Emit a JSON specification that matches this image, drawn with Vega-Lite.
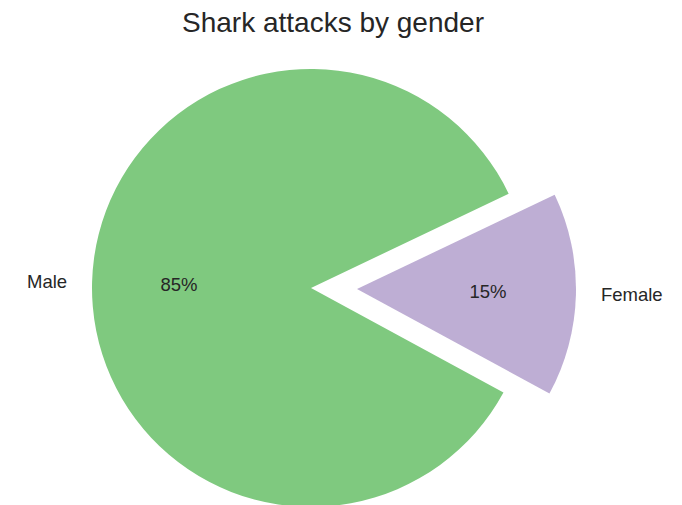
{
  "$schema": "https://vega.github.io/schema/vega-lite/v6.json",
  "width": 622,
  "height": 436,
  "autosize": "none",
  "padding": {"left": 0, "top": 70, "right": 60, "bottom": 0},
  "background": "white",
  "view": {"stroke": null},
  "title": {
    "text": "Shark attacks by gender",
    "font": "Liberation Sans",
    "fontSize": 28,
    "fontWeight": "normal",
    "color": "#262626",
    "anchor": "middle",
    "frame": "group",
    "dx": 22,
    "baseline": "alphabetic",
    "offset": 9
  },
  "data": {"values": [
    {"gender": "Male", "share": 0.85},
    {"gender": "Female", "share": 0.15}
  ]},
  "transform": [
    {"stack": "share", "groupby": [], "sort": [{"field": "gender", "order": "descending"}], "as": ["s0", "s1"]},
    {"calculate": "(datum.s0 + datum.s1) / 2", "as": "mid"}
  ],
  "layer": [
    {
      "transform": [{"filter": "datum.gender === 'Male'"}],
      "mark": {"type": "arc", "outerRadius": 219},
      "encoding": {
        "theta": {"field": "s0", "type": "quantitative", "scale": {"domain": [0, 1], "range": [2.068215, 8.3514]}},
        "theta2": {"field": "s1"},
        "color": {"field": "gender", "type": "nominal", "scale": {"domain": ["Male", "Female"], "range": ["#7fc97f", "#beaed4"]}, "legend": null}
      }
    },
    {
      "transform": [{"filter": "datum.gender === 'Female'"}],
      "mark": {"type": "arc", "outerRadius": 219, "xOffset": 46, "yOffset": 1},
      "encoding": {
        "theta": {"field": "s0", "type": "quantitative"},
        "theta2": {"field": "s1"},
        "color": {"field": "gender", "type": "nominal", "legend": null}
      }
    },
    {
      "transform": [{"filter": "datum.gender === 'Male'"}],
      "mark": {"type": "text", "radius": 244, "align": "right", "baseline": "middle", "font": "Liberation Sans", "fontSize": 18.5, "color": "#262626"},
      "encoding": {
        "theta": {"field": "mid", "type": "quantitative", "stack": null},
        "text": {"field": "gender"}
      }
    },
    {
      "transform": [{"filter": "datum.gender === 'Male'"}],
      "mark": {"type": "text", "radius": 132, "align": "center", "baseline": "middle", "font": "Liberation Sans", "fontSize": 18.5, "color": "#262626"},
      "encoding": {
        "theta": {"field": "mid", "type": "quantitative", "stack": null},
        "text": {"field": "share", "format": ".0%"}
      }
    },
    {
      "transform": [{"filter": "datum.gender === 'Female'"}],
      "mark": {"type": "text", "radius": 244, "align": "left", "baseline": "middle", "font": "Liberation Sans", "fontSize": 18.5, "color": "#262626", "xOffset": 46, "yOffset": 1},
      "encoding": {
        "theta": {"field": "mid", "type": "quantitative", "stack": null},
        "text": {"field": "gender"}
      }
    },
    {
      "transform": [{"filter": "datum.gender === 'Female'"}],
      "mark": {"type": "text", "radius": 131, "align": "center", "baseline": "middle", "font": "Liberation Sans", "fontSize": 18.5, "color": "#262626", "xOffset": 46, "yOffset": 1},
      "encoding": {
        "theta": {"field": "mid", "type": "quantitative", "stack": null},
        "text": {"field": "share", "format": ".0%"}
      }
    }
  ]
}
